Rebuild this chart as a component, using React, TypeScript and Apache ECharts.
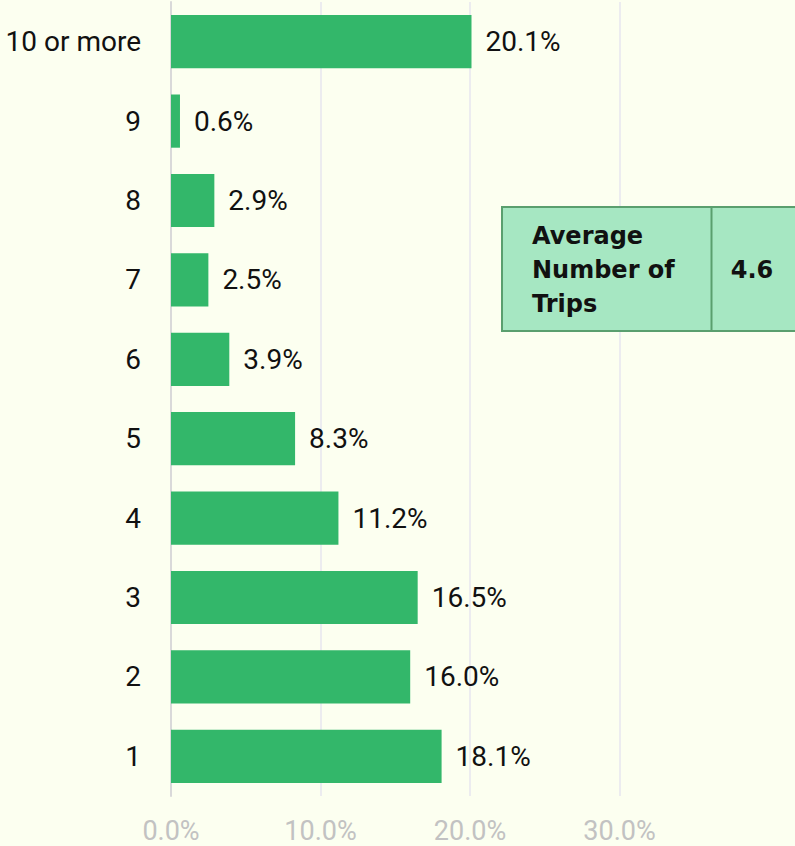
import React, { useEffect, useRef } from "react";
import * as echarts from "echarts";

const categories = ["1", "2", "3", "4", "5", "6", "7", "8", "9", "10 or more"];
const shares = [18.1, 16.0, 16.5, 11.2, 8.3, 3.9, 2.5, 2.9, 0.6, 20.1];
const tableLabel = "Average\nNumber of\nTrips";
const tableValue = "4.6";

const FONT = "Roboto, 'Liberation Sans', sans-serif";
const BOX_FONT = "'DejaVu Sans', Roboto, sans-serif";

export default function App() {
  const ref = useRef<HTMLDivElement>(null);
  useEffect(() => {
    if (!ref.current) return;
    const chart = echarts.init(ref.current, null, { renderer: "svg" });
    chart.setOption({
      animation: false,
      backgroundColor: "#fcfff0",
      grid: { left: 171, right: 26, top: 2, bottom: 50, containLabel: false },
      xAxis: {
        type: "value",
        min: 0,
        max: 40,
        interval: 10,
        axisLine: { show: false },
        axisTick: { show: false },
        axisLabel: {
          showMaxLabel: false,
          color: "#c2c2c2",
          fontSize: 27,
          fontFamily: FONT,
          margin: 21,
          formatter: (v: number) => (v >= 40 ? "" : v.toFixed(1) + "%"),
        },
        splitLine: {
          show: true,
          showMinLine: false,
          showMaxLine: false,
          lineStyle: { color: "#ececef", width: 2 },
        },
      },
      yAxis: {
        type: "category",
        data: categories,
        axisLine: { show: true, lineStyle: { color: "#d9d9d9", width: 2 } },
        axisTick: { show: false },
        axisLabel: {
          color: "#111",
          fontSize: 28,
          fontFamily: FONT,
          margin: 30,
        },
      },
      series: [
        {
          type: "bar",
          data: shares,
          barCategoryGap: "33%",
          itemStyle: { color: "#33b76a" },
          label: {
            show: true,
            position: "right",
            distance: 14,
            color: "#111",
            fontSize: 28,
            fontFamily: FONT,
            formatter: (p: any) => Number(p.value).toFixed(1) + "%",
          },
        },
      ],
      graphic: [
        {
          type: "rect",
          shape: { x: 502, y: 207, width: 320, height: 124 },
          style: { fill: "#a6e7c2", stroke: "#5a9f6e", lineWidth: 2 },
          z: 10,
        },
        {
          type: "line",
          shape: { x1: 711.5, y1: 207, x2: 711.5, y2: 331 },
          style: { stroke: "#5a9f6e", lineWidth: 2 },
          z: 11,
        },
        {
          type: "text",
          x: 532,
          y: 270,
          style: {
            text: tableLabel,
            fill: "#111",
            fontSize: 24,
            fontWeight: "bold",
            fontFamily: BOX_FONT,
            lineHeight: 34,
            verticalAlign: "middle",
            align: "left",
          },
          z: 12,
        },
        {
          type: "text",
          x: 752,
          y: 270,
          style: {
            text: tableValue,
            fill: "#111",
            fontSize: 24,
            fontWeight: "bold",
            fontFamily: BOX_FONT,
            verticalAlign: "middle",
            align: "center",
          },
          z: 12,
        },
      ],
    });
    return () => chart.dispose();
  }, []);
  return (
    <div
      ref={ref}
      style={{ position: "fixed", left: 0, top: 0, width: 795, height: 846 }}
    />
  );
}
